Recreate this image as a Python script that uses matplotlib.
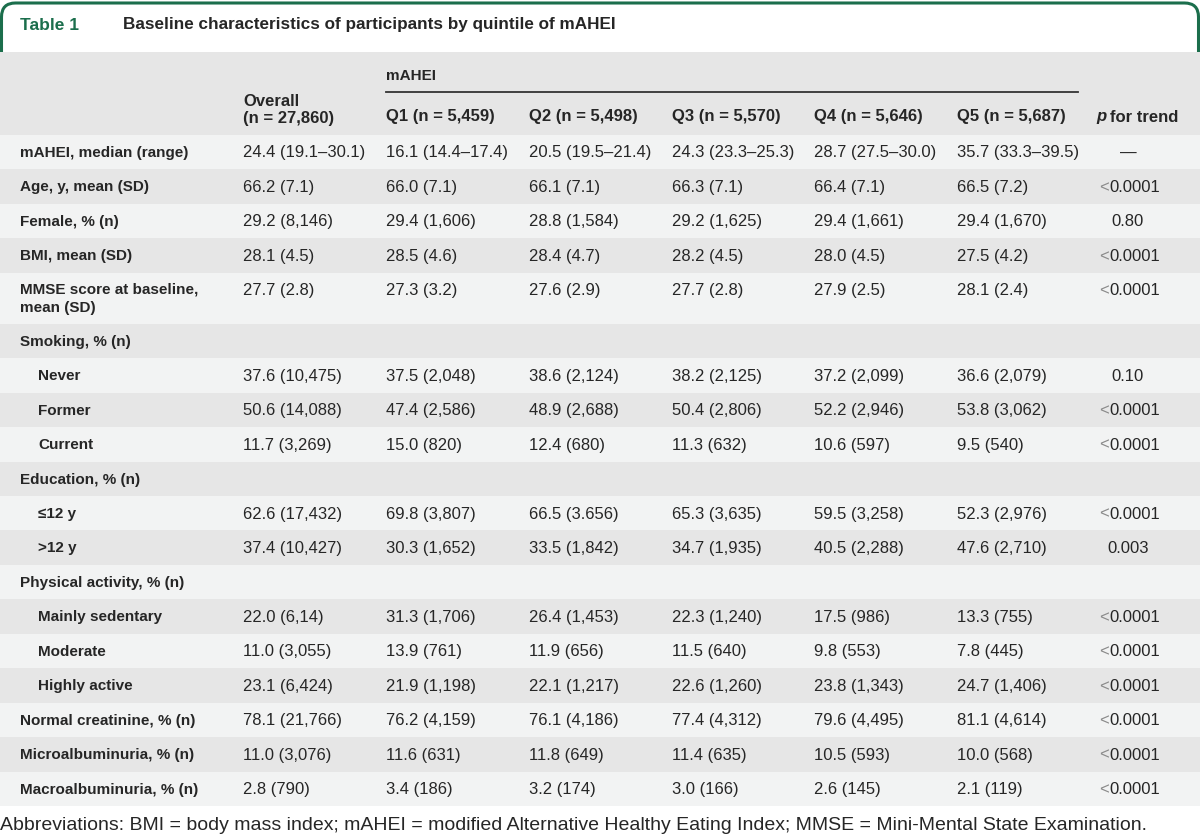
import matplotlib
matplotlib.use("Agg")
import matplotlib.pyplot as plt
from matplotlib.patches import FancyBboxPatch, Rectangle

plt.rcParams['font.family'] = ['Liberation Sans', 'DejaVu Sans']

GREEN = '#1b6e4c'
TEXT = '#262626'
DARK = '#e6e6e6'
LIGHT = '#f2f3f3'

table_no = "Table 1"
title = "Baseline characteristics of participants by quintile of mAHEI"
group_header = "mAHEI"
col_headers = ["Overall\n(n = 27,860)", "Q1 (n = 5,459)", "Q2 (n = 5,498)",
               "Q3 (n = 5,570)", "Q4 (n = 5,646)", "Q5 (n = 5,687)"]
footnote = ("Abbreviations: BMI = body mass index; mAHEI = modified Alternative "
            "Healthy Eating Index; MMSE = Mini-Mental State Examination.")

# (label, indented, values for Overall/Q1..Q5, p for trend)
rows = [
    ("mAHEI, median (range)", False,
     ["24.4 (19.1–30.1)", "16.1 (14.4–17.4)", "20.5 (19.5–21.4)", "24.3 (23.3–25.3)", "28.7 (27.5–30.0)", "35.7 (33.3–39.5)"], "—"),
    ("Age, y, mean (SD)", False,
     ["66.2 (7.1)", "66.0 (7.1)", "66.1 (7.1)", "66.3 (7.1)", "66.4 (7.1)", "66.5 (7.2)"], "<0.0001"),
    ("Female, % (n)", False,
     ["29.2 (8,146)", "29.4 (1,606)", "28.8 (1,584)", "29.2 (1,625)", "29.4 (1,661)", "29.4 (1,670)"], "0.80"),
    ("BMI, mean (SD)", False,
     ["28.1 (4.5)", "28.5 (4.6)", "28.4 (4.7)", "28.2 (4.5)", "28.0 (4.5)", "27.5 (4.2)"], "<0.0001"),
    ("MMSE score at baseline,\nmean (SD)", False,
     ["27.7 (2.8)", "27.3 (3.2)", "27.6 (2.9)", "27.7 (2.8)", "27.9 (2.5)", "28.1 (2.4)"], "<0.0001"),
    ("Smoking, % (n)", False, ["", "", "", "", "", ""], ""),
    ("Never", True,
     ["37.6 (10,475)", "37.5 (2,048)", "38.6 (2,124)", "38.2 (2,125)", "37.2 (2,099)", "36.6 (2,079)"], "0.10"),
    ("Former", True,
     ["50.6 (14,088)", "47.4 (2,586)", "48.9 (2,688)", "50.4 (2,806)", "52.2 (2,946)", "53.8 (3,062)"], "<0.0001"),
    ("Current", True,
     ["11.7 (3,269)", "15.0 (820)", "12.4 (680)", "11.3 (632)", "10.6 (597)", "9.5 (540)"], "<0.0001"),
    ("Education, % (n)", False, ["", "", "", "", "", ""], ""),
    ("≤12 y", True,
     ["62.6 (17,432)", "69.8 (3,807)", "66.5 (3.656)", "65.3 (3,635)", "59.5 (3,258)", "52.3 (2,976)"], "<0.0001"),
    (">12 y", True,
     ["37.4 (10,427)", "30.3 (1,652)", "33.5 (1,842)", "34.7 (1,935)", "40.5 (2,288)", "47.6 (2,710)"], "0.003"),
    ("Physical activity, % (n)", False, ["", "", "", "", "", ""], ""),
    ("Mainly sedentary", True,
     ["22.0 (6,14)", "31.3 (1,706)", "26.4 (1,453)", "22.3 (1,240)", "17.5 (986)", "13.3 (755)"], "<0.0001"),
    ("Moderate", True,
     ["11.0 (3,055)", "13.9 (761)", "11.9 (656)", "11.5 (640)", "9.8 (553)", "7.8 (445)"], "<0.0001"),
    ("Highly active", True,
     ["23.1 (6,424)", "21.9 (1,198)", "22.1 (1,217)", "22.6 (1,260)", "23.8 (1,343)", "24.7 (1,406)"], "<0.0001"),
    ("Normal creatinine, % (n)", False,
     ["78.1 (21,766)", "76.2 (4,159)", "76.1 (4,186)", "77.4 (4,312)", "79.6 (4,495)", "81.1 (4,614)"], "<0.0001"),
    ("Microalbuminuria, % (n)", False,
     ["11.0 (3,076)", "11.6 (631)", "11.8 (649)", "11.4 (635)", "10.5 (593)", "10.0 (568)"], "<0.0001"),
    ("Macroalbuminuria, % (n)", False,
     ["2.8 (790)", "3.4 (186)", "3.2 (174)", "3.0 (166)", "2.6 (145)", "2.1 (119)"], "<0.0001"),
]

col_x = [243, 386, 529, 672, 814, 957]
p_x = 1131
fs_lab = 11
fs_val = 12
fs_head = 12

fig = plt.figure(figsize=(12, 8.4), dpi=100)
ax = fig.add_axes([0, 0, 1, 1])
ax.set_xlim(0, 1200)
ax.set_ylim(840, 0)
ax.axis('off')

# title tab with rounded green border
tab = FancyBboxPatch((1.5, 3), 1197, 90, boxstyle="round,pad=0,rounding_size=14",
                     fc='white', ec=GREEN, lw=2.2, zorder=1)
ax.add_patch(tab)
ax.text(20, 25, table_no, color=GREEN, fontsize=12.5, fontweight='bold', va='center', zorder=5)
ax.text(123, 25, title, color=TEXT, fontsize=12.3, fontweight='bold', va='center', zorder=5)

# header band
ax.add_patch(Rectangle((0, 52), 1200, 83, fc=DARK, ec='none', zorder=2))
ax.text(col_x[1], 76, group_header, color=TEXT, fontsize=fs_lab, fontweight='bold', va='center', zorder=5)
ax.plot([col_x[1], 1078], [92, 92], color='#333333', lw=1.3, zorder=5)
ax.text(col_x[0], 110, col_headers[0], color=TEXT, fontsize=fs_head, fontweight='bold',
        va='center', linespacing=1.2, zorder=5)
for x, h in zip(col_x[1:], col_headers[1:]):
    ax.text(x, 117, h, color=TEXT, fontsize=fs_head, fontweight='bold', va='center', zorder=5)
ax.text(1096, 117, "p", color=TEXT, fontsize=fs_head, fontweight='bold', fontstyle='italic',
        va='center', zorder=5)
ax.text(1110, 117, "for trend", color=TEXT, fontsize=fs_head, fontweight='bold', va='center', zorder=5)

# body rows
y = 135
single, double = 34.45, 51
for i, (label, indent, vals, p) in enumerate(rows):
    two_line = "\n" in label
    h = double if two_line else single
    ax.add_patch(Rectangle((0, y), 1200, h, fc=LIGHT if i % 2 == 0 else DARK, ec='none', zorder=2))
    ty = y + 18
    if two_line:
        ax.text(20, ty - 8, label, color=TEXT, fontsize=fs_lab, fontweight='bold', va='top',
                linespacing=1.4, zorder=5)
    else:
        ax.text(38 if indent else 20, ty, label, color=TEXT, fontsize=fs_lab, fontweight='bold',
                va='center', zorder=5)
    for x, v in zip(col_x, vals):
        ax.text(x, ty, v, color=TEXT, fontsize=fs_val, va='center', zorder=5)
    if p.startswith("<"):
        # the "<" sign is printed lighter than the digits
        ax.text(p_x - 22, ty, "<", color='#8a8a8a', fontsize=fs_val, va='center', ha='right', zorder=5)
        ax.text(p_x - 22, ty, p[1:], color=TEXT, fontsize=fs_val, va='center', ha='left', zorder=5)
    elif p:
        ax.text(p_x - 3, ty, p, color=TEXT, fontsize=fs_val, va='center', ha='center', zorder=5)
    y += h

ax.text(0, 826, footnote, color=TEXT, fontsize=14, va='center', zorder=5)

fig.savefig("out.png", dpi=100)
